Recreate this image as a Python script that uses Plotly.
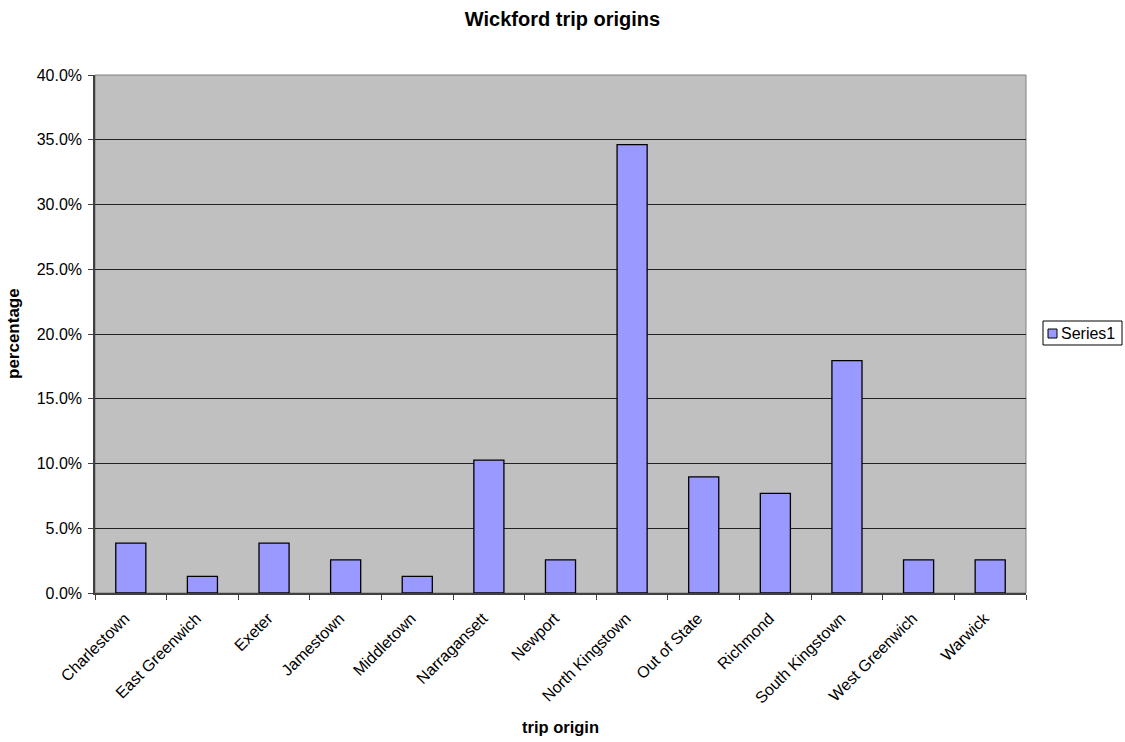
import plotly.graph_objects as go

origins = ["Charlestown", "East Greenwich", "Exeter", "Jamestown", "Middletown",
           "Narragansett", "Newport", "North Kingstown", "Out of State", "Richmond",
           "South Kingstown", "West Greenwich", "Warwick"]
shares = [0.0385, 0.0128, 0.0385, 0.0256, 0.0128, 0.1026, 0.0256, 0.3462,
          0.0897, 0.0769, 0.1795, 0.0256, 0.0256]
y_ticks = [0.0, 0.05, 0.10, 0.15, 0.20, 0.25, 0.30, 0.35, 0.40]
series_name = "Series1"

BAR_COLOR = "#9999FF"
FONT = "Arial, 'Liberation Sans', sans-serif"

# plot-area geometry in page pixels
L, R, T, B = 95, 1026, 75, 593
W, H = 1125, 742
PW, PH = R - L, B - T


def px(x):
    return (x - L) / PW


def py(y):
    return (B - y) / PH


fig = go.Figure()
fig.add_trace(go.Bar(
    x=origins, y=shares, name=series_name,
    marker=dict(color=BAR_COLOR, line=dict(color="#000000", width=1.3)),
    width=0.42, showlegend=False,
))

fig.update_layout(
    width=W, height=H,
    margin=dict(l=L, r=W - R, t=T, b=H - B, autoexpand=False),
    paper_bgcolor="white", plot_bgcolor="#C0C0C0",
    font=dict(family=FONT, size=16, color="black"),
    title=dict(text="<b>Wickford trip origins</b>", x=0.5, xanchor="center",
               y=1 - 19 / H, yanchor="middle", font=dict(size=20)),
    showlegend=False,
)

fig.update_xaxes(
    type="category", tickson="boundaries", ticks="outside", ticklen=5,
    tickcolor="#404040", tickangle=-45, showline=True, linecolor="#404040",
    linewidth=1.5, showgrid=False, range=[-0.5, 12.5],
    tickfont=dict(size=16), ticklabelstandoff=8, ticklabelshift=-6,
)
fig.update_yaxes(
    range=[0, 0.40], tickvals=y_ticks, tickformat=".1%", ticks="outside",
    ticklen=5, tickcolor="#404040", showline=True, linecolor="#404040",
    linewidth=1.5, showgrid=True, gridcolor="#222222", gridwidth=1,
    zeroline=False, tickfont=dict(size=16), ticklabelstandoff=3,
)

# axis titles
fig.add_annotation(text="<b>trip origin</b>", xref="paper", yref="paper",
                   x=0.5, y=py(727), xanchor="center", yanchor="middle",
                   showarrow=False, font=dict(size=16.5))
fig.add_annotation(text="<b>percentage</b>", xref="paper", yref="paper",
                   x=px(13), y=0.5, xanchor="center", yanchor="middle",
                   textangle=-90, showarrow=False, font=dict(size=17))

# plot-area border
fig.add_shape(type="rect", xref="paper", yref="paper", x0=0, x1=1, y0=0, y1=1,
              line=dict(color="#808080", width=1), layer="below")

# legend box with swatch and label
fig.add_shape(type="rect", xref="paper", yref="paper",
              x0=px(1043), x1=px(1122), y0=py(345), y1=py(321),
              line=dict(color="black", width=1), fillcolor="white")
fig.add_shape(type="rect", xref="paper", yref="paper",
              x0=px(1048), x1=px(1057), y0=py(338), y1=py(329),
              line=dict(color="black", width=1), fillcolor=BAR_COLOR)
fig.add_annotation(text=series_name, xref="paper", yref="paper",
                   x=px(1059), y=py(333.5), xanchor="left", yanchor="middle",
                   showarrow=False, font=dict(size=16))

fig.write_html("out.html")
